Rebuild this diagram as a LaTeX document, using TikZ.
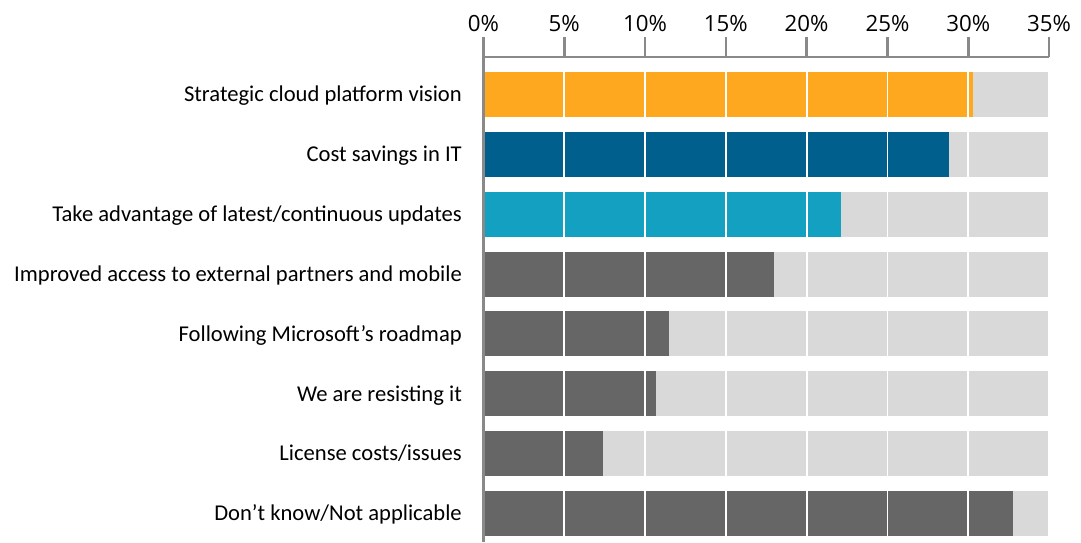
\documentclass[tikz,border=0pt]{standalone}
\usepackage{fontspec}
\setmainfont{Carlito}
\newfontfamily\tickfont{Open Sans}
\usetikzlibrary{positioning}

\definecolor{barorange}{HTML}{FEA820}
\definecolor{bardarkblue}{HTML}{005F8C}
\definecolor{barteal}{HTML}{14A0C1}
\definecolor{bargray}{HTML}{666666}
\definecolor{barbg}{HTML}{D9D9D9}
\definecolor{axisgray}{HTML}{898989}

\tikzset{
	catlabel/.style={anchor=base east, inner sep=0pt, font=\fontsize{22.6}{26}\selectfont},
	ticklabel/.style={anchor=base, inner sep=0pt, font=\tickfont\fontsize{22.3}{26}\selectfont},
	axisline/.style={draw=axisgray, line width=2.6pt},
	gridline/.style={draw=white, line width=1.8pt}
}

\begin{document}
\begin{tikzpicture}[x=1pt, y=-1pt]
		\useasboundingbox (0,0) rectangle (1081,542);
		\coordinate (O) at (483.5,57);
		\coordinate (E) at (1049,57);
		\coordinate (B) at (483.5,542);
		
		% bars and their labels
		\foreach \v/\col/\lab [count=\i] in {
			30.3/barorange/{Strategic cloud platform vision},
			28.8/bardarkblue/{Cost savings in IT},
			22.1/barteal/{Take advantage of latest/continuous updates},
			18.0/bargray/{Improved access to external partners and mobile},
			11.5/bargray/{Following Microsoft’s roadmap},
			10.7/bargray/{We are resisting it},
			7.4/bargray/{License costs/issues},
			32.8/bargray/{Don’t know/Not applicable}}
		{
			\pgfmathsetmacro{\ytop}{72+59.86*(\i-1)}
			\fill[barbg] (483.5,\ytop) rectangle (1048,\ytop+45);
			\fill[\col] (483.5,\ytop) rectangle ({483.5+16.157*\v},\ytop+45);
			\node[catlabel] (cat\i) at (462,\ytop+29.8) {\lab};
		}
		
		% grid lines over the bars
		\foreach \p in {5,10,...,30}
			\draw[gridline] ({483.5+16.157*\p},72) -- ({483.5+16.157*\p},536);
		
		% axis, ticks and tick labels
		\draw[axisline] (B) -- (O) -- (E);
		\foreach \p [count=\j from 0] in {0,5,...,35}
		{
			\coordinate (T\j) at ({483.5+16.157*\p},57);
			\draw[axisline] (T\j) -- ++(0,-20);
			\node[ticklabel] (tick\j) at ({483.5+16.157*\p},31) {\p\%};
		}
\end{tikzpicture}
\end{document}
